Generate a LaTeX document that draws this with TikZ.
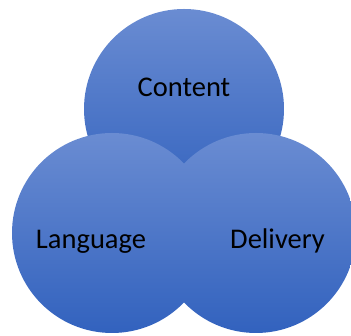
\documentclass[tikz,border=0pt]{standalone}
\usepackage{fontspec}
\setmainfont{Carlito}
\definecolor{circtop}{RGB}{106,140,210}
\definecolor{circbot}{RGB}{50,98,190}
\begin{document}
\begin{tikzpicture}[x=1pt,y=1pt,
  blob/.style={circle, minimum size=200pt, inner sep=0pt, draw=none,
    top color=circtop, bottom color=circbot},
  lbl/.style={anchor=base, inner sep=0pt, font=\fontsize{28.5}{30}\selectfont, text=black}]
\useasboundingbox (0,0) rectangle (351,336);
\node[blob] (content) at (184,227) {};
\node[blob] (language) at (112,103) {};
\node[blob] (delivery) at (256,103) {};
\node[lbl] (tc) at (184,239) {Content};
\node[lbl] (tl) at (91,87) {Language};
\node[lbl] (td) at (277.5,87) {Delivery};
\end{tikzpicture}
\end{document}
